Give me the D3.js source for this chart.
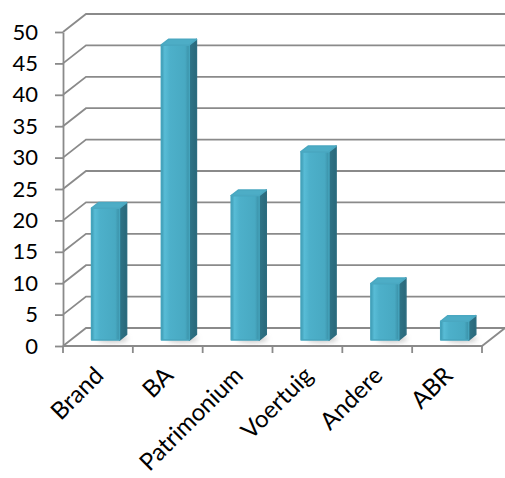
<!DOCTYPE html>
<html>
<head>
<meta charset="utf-8">
<script src="https://cdn.jsdelivr.net/npm/d3@7"></script>
<style>
  html, body { margin: 0; padding: 0; background: #fff; }
  svg { display: block; }
  text { font-family: Lato, "Open Sans", sans-serif; fill: #000; }
</style>
</head>
<body>
<svg id="chart" width="505" height="478"></svg>
<script>
// Number of cases per category
const categories = ["Brand", "BA", "Patrimonium", "Voertuig", "Andere", "ABR"];
const values = [21, 47, 23, 30, 9, 3];
const yTicks = [0, 5, 10, 15, 20, 25, 30, 35, 40, 45, 50];

const svg = d3.select("#chart");

// Front plane of the 3D box and the depth offset to its back wall
const plotLeft = 63, plotRight = 482, plotBottom = 346, plotTop = 32;
const depth = { dx: 23, dy: -18 };
const z0 = 0.33, z1 = 0.64;   // depth span occupied by the columns

const x = d3.scaleBand().domain(categories).range([plotLeft, plotRight]).paddingInner(0.6).paddingOuter(0.3);
const xStep = d3.scaleBand().domain(categories).range([plotLeft, plotRight]).padding(0);
const y = d3.scaleLinear().domain([0, 50]).range([plotBottom, plotTop]);

const gridColor = "#8a8a8a";
const defs = svg.append("defs");

// Shading of the column faces
const frontGrad = defs.append("linearGradient").attr("id", "front").attr("x1", 0).attr("x2", 1).attr("y1", 0).attr("y2", 0);
[[0, "#3f9bb3"], [0.12, "#58bcd6"], [0.3, "#4db0ca"], [0.85, "#48a9c2"], [1, "#3a8fa6"]]
  .forEach(([o, c]) => frontGrad.append("stop").attr("offset", o).attr("stop-color", c));
const sideGrad = defs.append("linearGradient").attr("id", "side").attr("x1", 0).attr("x2", 1).attr("y1", 0).attr("y2", 0);
[[0, "#2f7588"], [1, "#2a687a"]]
  .forEach(([o, c]) => sideGrad.append("stop").attr("offset", o).attr("stop-color", c));
defs.append("filter").attr("id", "soft").attr("x", "-50%").attr("y", "-50%").attr("width", "200%").attr("height", "200%")
  .append("feGaussianBlur").attr("stdDeviation", 2.5);

const P = (px, py, z) => [px + depth.dx * z, py + depth.dy * z];
const line = d3.line();

// Back wall gridlines and their side-wall connectors
const grid = svg.append("g").attr("fill", "none").attr("stroke", gridColor).attr("stroke-width", 1.8);
yTicks.forEach(t => {
  const yy = y(t);
  grid.append("path").attr("d", line([P(plotLeft, yy, 0), P(plotLeft, yy, 1), P(plotRight, yy, 1)]));
});

// Floor: front edge and right edge
grid.append("path").attr("d", line([[plotLeft, plotBottom], [plotRight, plotBottom], P(plotRight, plotBottom, 1)]));

// Column shadows on the floor
const shadows = svg.append("g").attr("filter", "url(#soft)");
categories.forEach(c => {
  const [bx, by] = P(x(c), plotBottom, z0);
  shadows.append("ellipse")
    .attr("cx", bx + x.bandwidth() * 0.75).attr("cy", by - 1)
    .attr("rx", x.bandwidth() * 0.55).attr("ry", 3.5)
    .attr("fill", "#9a9a9a").attr("opacity", 0.55);
});

// Columns
const bars = svg.append("g");
categories.forEach((c, i) => {
  const v = values[i];
  const w = x.bandwidth();
  const [fx, fy0] = P(x(c), plotBottom, z0);
  const fyTop = P(x(c), y(v), z0)[1];
  const g = bars.append("g").attr("stroke-linejoin", "round").attr("stroke-width", 1.5);

  // side face
  g.append("path")
    .attr("d", line([[fx + w, fy0], [fx + w, fyTop], P(fx + w, fyTop, z1 - z0), P(fx + w, fy0, z1 - z0)]) + "Z")
    .attr("fill", "url(#side)").attr("stroke", "#2c6d80");
  // front face
  g.append("path")
    .attr("d", line([[fx, fy0], [fx, fyTop], [fx + w, fyTop], [fx + w, fy0]]) + "Z")
    .attr("fill", "url(#front)").attr("stroke", "#45a4bd");
  // top face
  g.append("path")
    .attr("d", line([[fx, fyTop], P(fx, fyTop, z1 - z0), P(fx + w, fyTop, z1 - z0), [fx + w, fyTop]]) + "Z")
    .attr("fill", "#4dadc6").attr("stroke", "#4aa8c1");
});

// Vertical axis
const yAxis = d3.axisLeft(y).tickValues(yTicks).tickSize(8).tickSizeOuter(0).tickPadding(17);
const ya = svg.append("g").attr("transform", `translate(${plotLeft},0)`).call(yAxis);
ya.select(".domain").attr("stroke", gridColor).attr("stroke-width", 1.8);
ya.selectAll(".tick line").attr("stroke", gridColor).attr("stroke-width", 1.8);
ya.selectAll(".tick text").attr("font-size", 22).attr("font-family", "Lato, sans-serif").attr("fill", "#000");

// Category ticks at band boundaries
const tickXs = categories.map(c => xStep(c)).concat([plotRight]);
svg.append("g").selectAll("line").data(tickXs).join("line")
  .attr("x1", d => d).attr("x2", d => d)
  .attr("y1", plotBottom).attr("y2", plotBottom + 7)
  .attr("stroke", gridColor).attr("stroke-width", 1.8);

// Category labels, rotated
svg.append("g").selectAll("text").data(categories).join("text")
  .attr("transform", c => `translate(${xStep(c) + xStep.bandwidth() / 2 + 7},${plotBottom + 31}) rotate(-45)`)
  .attr("text-anchor", "end")
  .attr("font-size", 24)
  .text(c => c);
</script>
</body>
</html>
